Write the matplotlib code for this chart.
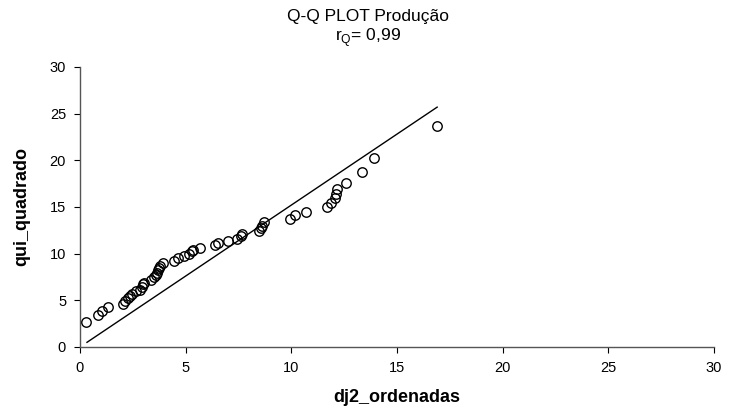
import matplotlib
matplotlib.use("Agg")
import matplotlib.pyplot as plt

plt.rcParams['font.family'] = ['Liberation Sans', 'DejaVu Sans']

dj2_ordenadas = [0.28, 0.84, 1.06, 1.33, 2.05, 2.15, 2.25, 2.35, 2.45, 2.65,
                 2.85, 2.95, 3.0, 3.05, 3.35, 3.5, 3.6, 3.65, 3.7, 3.75,
                 3.8, 3.95, 4.45, 4.65, 4.9, 5.15, 5.3, 5.35, 5.7, 6.4,
                 6.55, 7.0, 7.45, 7.6, 7.65, 8.45, 8.55, 8.6, 8.7, 9.95,
                 10.15, 10.7, 11.7, 11.9, 12.05, 12.1, 12.15, 12.6, 13.35, 13.9,
                 16.9]
qui_quadrado = [2.65, 3.45, 3.9, 4.3, 4.65, 4.9, 5.2, 5.45, 5.7, 5.95,
                6.15, 6.45, 6.7, 6.9, 7.2, 7.45, 7.7, 7.95, 8.2, 8.45,
                8.7, 9.0, 9.25, 9.5, 9.75, 9.95, 10.25, 10.4, 10.65, 10.9,
                11.1, 11.35, 11.6, 11.85, 12.1, 12.4, 12.7, 13.0, 13.35, 13.75,
                14.1, 14.5, 15.0, 15.45, 15.95, 16.4, 16.9, 17.6, 18.7, 20.3,
                23.7]
line_x = [0.33, 16.9]
line_y = [0.5, 25.7]
x_ticks = [0, 5, 10, 15, 20, 25, 30]
y_ticks = [0, 5, 10, 15, 20, 25, 30]

fig = plt.figure(figsize=(7.29, 4.13), dpi=100)
ax = fig.add_axes([80/729, 1-347/413, (714-80)/729, (347-67)/413])

ax.plot(line_x, line_y, color='black', lw=1.0, zorder=2)
ax.plot(dj2_ordenadas, qui_quadrado, linestyle='none', marker='o',
        markersize=6.8, markerfacecolor='none', markeredgecolor='black',
        markeredgewidth=1.0, zorder=3)

ax.set_xlim(0, 30)
ax.set_ylim(0, 30)
ax.set_xticks(x_ticks)
ax.set_yticks(y_ticks)
ax.tick_params(direction='out', length=4, width=0.8, labelsize=10.5, colors='black')
ax.tick_params(axis='x', pad=6)
ax.tick_params(axis='y', pad=6)
for s in ['top', 'right']:
    ax.spines[s].set_visible(False)
for s in ['left', 'bottom']:
    ax.spines[s].set_color('#555555')
    ax.spines[s].set_linewidth(1.0)

ax.set_xlabel('dj2_ordenadas', fontsize=13, fontweight='bold', va='center')
ax.set_ylabel('qui_quadrado', fontsize=13, fontweight='bold', va='center')
ax.xaxis.set_label_coords(0.5, (347-398)/280)
ax.yaxis.set_label_coords((22-80)/634, 0.5)

fig.text(368/729, 1-17/413, 'Q-Q PLOT Produção', ha='center', va='center', fontsize=12.5)
fig.text(368/729, 1-38/413, r'r$_{\mathregular{Q}}$= 0,99', ha='center', va='center', fontsize=12.5)

fig.savefig('out.png', dpi=100)
